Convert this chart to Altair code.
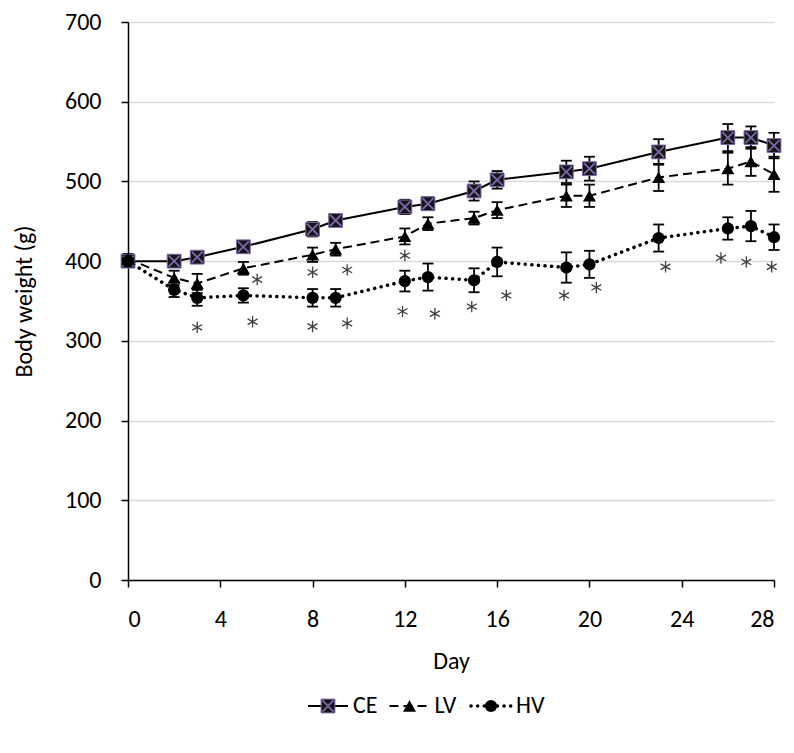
import altair as alt
import pandas as pd

# ---- data ----
days = [0, 2, 3, 5, 8, 9, 12, 13, 15, 16, 19, 20, 23, 26, 27, 28]
ce = [400, 400, 405, 418, 440, 451, 468, 472, 488, 502, 512, 516, 537, 555, 555, 545]
ce_err = [3, 3, 4, 5, 9, 6, 9, 8, 12, 11, 14, 15, 16, 17, 14, 16]
lv = [403, 379, 372, 391, 408, 415, 431, 447, 454, 464, 482, 482, 505, 516, 525, 509]
lv_err = [6, 9, 12, 8, 9, 8, 10, 8, 8, 10, 14, 14, 17, 20, 18, 22]
hv = [400, 364, 354, 357, 354, 354, 375, 380, 376, 399, 392, 396, 429, 441, 444, 430]
hv_err = [4, 9, 10, 9, 11, 11, 13, 17, 15, 18, 19, 17, 17, 14, 19, 16]

lv_star_day = [5.6, 8.0, 9.5, 12.0]
lv_star_val = [377, 386, 389, 407]
hv_star_day = [3.0, 5.4, 8.0, 9.5, 11.9, 13.3, 14.9, 16.4, 18.9, 20.3, 23.3, 25.7, 26.8, 27.9]
hv_star_val = [317, 324, 318, 322, 337, 334, 343, 357, 357, 367, 393, 404, 399, 393]

groups = ["CE", "LV", "HV"]
x_ticks = [0, 4, 8, 12, 16, 20, 24, 28]
y_ticks = [0, 100, 200, 300, 400, 500, 600, 700]

rows = []
for g, vals, errs in [("CE", ce, ce_err), ("LV", lv, lv_err), ("HV", hv, hv_err)]:
    for d, v, e in zip(days, vals, errs):
        rows.append({"day": d, "weight": v, "lo": v - e, "hi": v + e, "group": g})
df = pd.DataFrame(rows)

stars = pd.DataFrame({
    "day": lv_star_day + hv_star_day,
    "weight": lv_star_val + hv_star_val,
})
legend_df = pd.DataFrame({"group": groups})

FONT = "Calibri, Carlito, Lato, sans-serif"
FS = 24
PURPLE = "#7d67ad"
ASTERISK = "M0,-1L0,1M-0.866,-0.5L0.866,0.5M-0.866,0.5L0.866,-0.5"
XSHAPE = "M-0.8,-0.8L0.8,0.8M-0.8,0.8L0.8,-0.8"
CAP = "M-1,0L1,0"

xenc = alt.X("day:Q", scale=alt.Scale(domain=[0, 28], nice=False),
             axis=alt.Axis(values=x_ticks, title="Day", grid=False,
                           labelPadding=20, titlePadding=18))
yenc = alt.Y("weight:Q", scale=alt.Scale(domain=[0, 700], nice=False),
             axis=alt.Axis(values=y_ticks, title="Body weight (g)", grid=True,
                           labelPadding=20, titlePadding=28))

base = alt.Chart(df)

err_rule = base.mark_rule(color="black", strokeWidth=1.8).encode(
    x="day:Q", y="lo:Q", y2="hi:Q")
cap_lo = base.mark_point(shape=CAP, filled=False, size=120, stroke="black",
                         strokeWidth=1.8, opacity=1).encode(x="day:Q", y="lo:Q")
cap_hi = base.mark_point(shape=CAP, filled=False, size=120, stroke="black",
                         strokeWidth=1.8, opacity=1).encode(x="day:Q", y="hi:Q")

line_ce = base.transform_filter("datum.group == 'CE'").mark_line(
    color="black", strokeWidth=2).encode(x=xenc, y=yenc)
line_lv = base.transform_filter("datum.group == 'LV'").mark_line(
    color="black", strokeWidth=2, strokeDash=[9, 5]).encode(x="day:Q", y="weight:Q")
line_hv = base.transform_filter("datum.group == 'HV'").mark_line(
    color="black", strokeWidth=3.5, strokeDash=[0.1, 6.5], strokeCap="round").encode(
    x="day:Q", y="weight:Q")

pt_ce = base.transform_filter("datum.group == 'CE'").mark_point(
    shape="square", filled=True, size=190, fill="#151515", stroke=PURPLE,
    strokeWidth=1, opacity=1).encode(x="day:Q", y="weight:Q")
pt_ce_x = base.transform_filter("datum.group == 'CE'").mark_point(
    shape=XSHAPE, filled=False, size=190, stroke=PURPLE, strokeWidth=1.8,
    opacity=1).encode(x="day:Q", y="weight:Q")
pt_lv = base.transform_filter("datum.group == 'LV'").mark_point(
    shape="triangle-up", filled=True, size=170, color="black", opacity=1).encode(
    x="day:Q", y="weight:Q")
pt_hv = base.transform_filter("datum.group == 'HV'").mark_point(
    shape="circle", filled=True, size=150, color="black", opacity=1).encode(
    x="day:Q", y="weight:Q")

star_layer = alt.Chart(stars).mark_point(
    shape=ASTERISK, filled=False, size=130, stroke="#404040", strokeWidth=1.3,
    opacity=1).encode(x="day:Q", y="weight:Q")

main = alt.layer(
    line_ce, err_rule, cap_lo, cap_hi, line_lv, line_hv,
    pt_ce, pt_ce_x, pt_lv, pt_hv, star_layer
).properties(width=646, height=558)

# ---- legend ----
lx = alt.X("group:N", scale=alt.Scale(type="point", domain=groups, range=[200, 363],
                                      padding=0), axis=None)
lbase = alt.Chart(legend_df)
LY = alt.value(10)
leg_rule_ce = lbase.transform_filter("datum.group == 'CE'").mark_rule(
    color="black", strokeWidth=2, xOffset=-20, x2Offset=20).encode(
    x=lx, x2="group:N", y=LY)
leg_rule_lv = lbase.transform_filter("datum.group == 'LV'").mark_rule(
    color="black", strokeWidth=2, strokeDash=[9, 5], xOffset=-20, x2Offset=20).encode(
    x="group:N", x2="group:N", y=LY)
leg_rule_hv = lbase.transform_filter("datum.group == 'HV'").mark_rule(
    color="black", strokeWidth=3.5, strokeDash=[0.1, 6.5], strokeCap="round",
    xOffset=-20, x2Offset=20).encode(x="group:N", x2="group:N", y=LY)
leg_ce = lbase.transform_filter("datum.group == 'CE'").mark_point(
    shape="square", filled=True, size=190, fill="#151515", stroke=PURPLE,
    strokeWidth=1, opacity=1).encode(x="group:N", y=LY)
leg_ce_x = lbase.transform_filter("datum.group == 'CE'").mark_point(
    shape=XSHAPE, filled=False, size=190, stroke=PURPLE, strokeWidth=1.8,
    opacity=1).encode(x="group:N", y=LY)
leg_lv = lbase.transform_filter("datum.group == 'LV'").mark_point(
    shape="triangle-up", filled=True, size=170, color="black", opacity=1).encode(
    x="group:N", y=LY)
leg_hv = lbase.transform_filter("datum.group == 'HV'").mark_point(
    shape="circle", filled=True, size=150, color="black", opacity=1).encode(
    x="group:N", y=LY)
leg_text = lbase.mark_text(align="left", baseline="middle", dx=25, fontSize=FS,
                           font=FONT, color="black").encode(
    x="group:N", y=LY, text="group:N")

legend = alt.layer(
    leg_rule_ce, leg_rule_lv, leg_rule_hv, leg_ce, leg_ce_x, leg_lv, leg_hv, leg_text
).properties(width=646, height=20)

chart = alt.vconcat(main, legend, spacing=21).properties(
    padding={"left": 4, "top": 2, "right": 0, "bottom": 5}
).configure(font=FONT).configure_view(stroke=None).configure_axis(
    labelFontSize=FS, titleFontSize=FS, labelColor="black", titleColor="black",
    titleFontWeight="normal", domainColor="black", domainWidth=1.5,
    tickColor="black", tickSize=7, tickWidth=1.5, gridColor="#d9d9d9",
    gridWidth=1.5, labelFont=FONT, titleFont=FONT
)

chart.save("out.html", embed_options={"renderer": "svg", "actions": False})
